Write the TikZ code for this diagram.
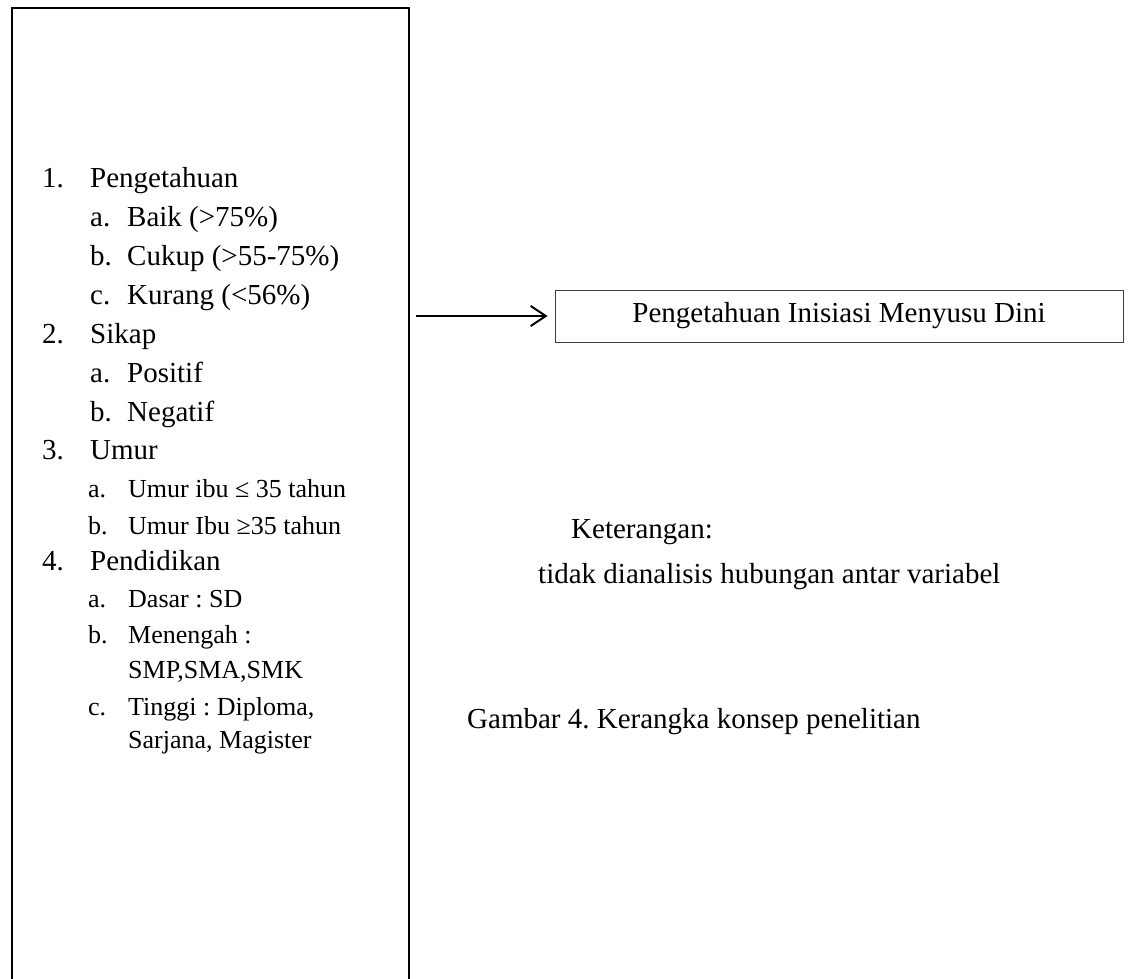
\documentclass[tikz,border=0pt]{standalone}
\usepackage{fontspec}
\setmainfont{Liberation Serif}
\usetikzlibrary{arrows.meta}
\frenchspacing
\begin{document}
\begin{tikzpicture}[x=1pt,y=1pt,
  big/.style={anchor=base west,inner sep=0pt,font=\fontsize{29}{35}\selectfont},
  sml/.style={anchor=base west,inner sep=0pt,font=\fontsize{26}{31}\selectfont},
  frame/.style={draw,line width=2pt,inner sep=0pt,anchor=north west},
  tbox/.style={draw=black!75,line width=1pt,inner sep=0pt,font=\fontsize{29}{35}\selectfont},
  conn/.style={line width=2pt,-{Straight Barb[length=15pt,width=20pt]}}]
\useasboundingbox (0,0) rectangle (1129,-979);
% left frame (runs past the bottom edge)
\node[frame,minimum width=397pt,minimum height=1010pt] (lbox) at (11,-7) {};
% item list
\node[big] (n1) at (42,-187) {1.};
\node[big] (t1) at (90,-187) {Pengetahuan};
\node[big] (a1) at (90,-226) {a.};
\node[big] (s1a) at (127,-226) {Baik (>75\%)};
\node[big] (b1) at (90,-265) {b.};
\node[big] (s1b) at (127,-265) {Cukup (>55-75\%)};
\node[big] (c1) at (90,-304) {c.};
\node[big] (s1c) at (127,-304) {Kurang (<56\%)};
\node[big] (n2) at (42,-343) {2.};
\node[big] (t2) at (90,-343) {Sikap};
\node[big] (a2) at (90,-382) {a.};
\node[big] (s2a) at (127,-382) {Positif};
\node[big] (b2) at (90,-421) {b.};
\node[big] (s2b) at (127,-421) {Negatif};
\node[big] (n3) at (42,-459) {3.};
\node[big] (t3) at (90,-459) {Umur};
\node[sml] (a3) at (88,-497) {a.};
\node[sml] (s3a) at (128,-497) {Umur ibu ≤ 35 tahun};
\node[sml] (b3) at (88,-534) {b.};
\node[sml] (s3b) at (128,-534) {Umur Ibu ≥35 tahun};
\node[big] (n4) at (42,-570) {4.};
\node[big] (t4) at (90,-570) {Pendidikan};
\node[sml] (a4) at (88,-607) {a.};
\node[sml] (s4a) at (128,-607) {Dasar : SD};
\node[sml] (b4) at (88,-643) {b.};
\node[sml] (s4b) at (128,-643) {Menengah :};
\node[sml] (s4b2) at (128,-678) {SMP,SMA,SMK};
\node[sml] (c4) at (88,-715) {c.};
\node[sml] (s4c) at (128,-715) {Tinggi : Diploma,};
\node[sml] (s4c2) at (128,-748) {Sarjana, Magister};
% outcome box
\node[tbox,minimum width=568pt,minimum height=52pt] (out) at (839,-316) {Pengetahuan Inisiasi Menyusu Dini};
\draw[conn] ([xshift=6pt]lbox.east |- out.west) -- ([xshift=-7pt]out.west);
% notes
\node[big] (ket) at (571,-538) {Keterangan:};
\node[big] (ket2) at (538,-583) {tidak dianalisis hubungan antar variabel};
\node[big] (cap) at (467,-728) {Gambar 4. Kerangka konsep penelitian};
\end{tikzpicture}
\end{document}
